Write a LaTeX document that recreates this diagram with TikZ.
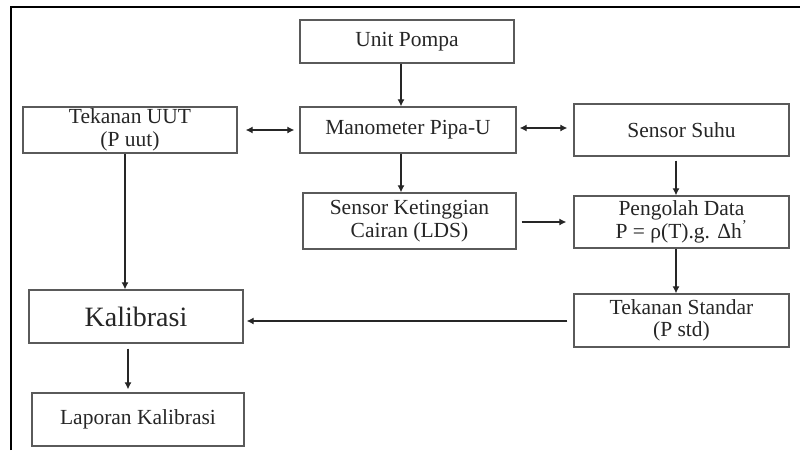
\documentclass[tikz,border=0pt]{standalone}
\usepackage{fontspec}
\setmainfont{Liberation Serif}
\usetikzlibrary{arrows.meta,calc}
\definecolor{boxc}{HTML}{5A5A5A}
\definecolor{txtc}{HTML}{262626}
\begin{document}
\begin{tikzpicture}[x=1pt,y=-1pt,
  box/.style={draw=boxc,line width=1.4pt,rectangle,inner sep=0pt,align=center,
    text=txtc,font=\fontsize{21.5}{22.5}\selectfont},
  arr/.style={draw=black!85,line width=1.1pt,-{Latex[length=7pt,width=7pt]}},
  darr/.style={draw=black!85,line width=1.1pt,{Latex[length=7pt,width=7pt]}-{Latex[length=7pt,width=7pt]}}]
\useasboundingbox (0,0) rectangle (800,450);
\fill[white] (0,0) rectangle (800,450);
% frame
\draw[line width=2pt] (11,450) -- (11,7) -- (800,7);
% nodes
\node[box,minimum width=214pt,minimum height=43pt] (pompa) at (407,41.5) {Unit Pompa};
\node[box,minimum width=216pt,minimum height=46pt] (mano) at (408,130) {Manometer Pipa-U};
\node[box,minimum width=214pt,minimum height=46pt] (uut) at (130,130) {Tekanan UUT\\(P uut)};
\node[box,minimum width=215pt,minimum height=52pt] (suhu) at (681.5,130) {Sensor Suhu};
\node[box,minimum width=213pt,minimum height=56pt] (lds) at (409.5,221) {Sensor Ketinggian\\Cairan (LDS)};
\node[box,minimum width=215pt,minimum height=52pt] (olah) at (681.5,222) {Pengolah Data\\P = ρ(T).g. Δh\textsuperscript{'}};
\node[box,minimum width=215pt,minimum height=53pt] (std) at (681.5,320.5) {Tekanan Standar\\(P std)};
\node[box,minimum width=214pt,minimum height=53pt,font=\fontsize{28}{30}\selectfont] (kal) at (136,316.5) {Kalibrasi};
\node[box,minimum width=212pt,minimum height=53pt] (lap) at (138,419.5) {Laporan Kalibrasi};
% connectors
\draw[arr] ([xshift=-6pt]pompa.south) -- ([xshift=-6pt]pompa.south |- mano.north);
\draw[arr] ([xshift=-7pt]mano.south) -- ([xshift=-7pt]mano.south |- lds.north);
\draw[darr,shorten <=8pt,shorten >=5pt] (uut.east |- 0,130) -- (mano.west |- 0,130);
\draw[darr,shorten <=3pt,shorten >=6pt] (mano.east |- 0,128) -- (suhu.west |- 0,128);
\draw[arr,shorten <=4pt] ([xshift=-5.5pt]suhu.south) -- ([xshift=-5.5pt]suhu.south |- olah.north);
\draw[arr,shorten <=5pt,shorten >=7pt] (lds.east |- 0,222) -- (olah.west |- 0,222);
\draw[arr] ([xshift=-5.5pt]olah.south) -- ([xshift=-5.5pt]olah.south |- std.north);
\draw[arr,shorten <=6pt,shorten >=3pt] (std.west |- 0,321) -- (kal.east |- 0,321);
\draw[arr] ([xshift=-5pt]uut.south) -- ([xshift=-5pt]uut.south |- kal.north);
\draw[arr,shorten <=5pt,shorten >=3pt] ([xshift=-8pt]kal.south) -- ([xshift=-8pt]kal.south |- lap.north);
\end{tikzpicture}
\end{document}
